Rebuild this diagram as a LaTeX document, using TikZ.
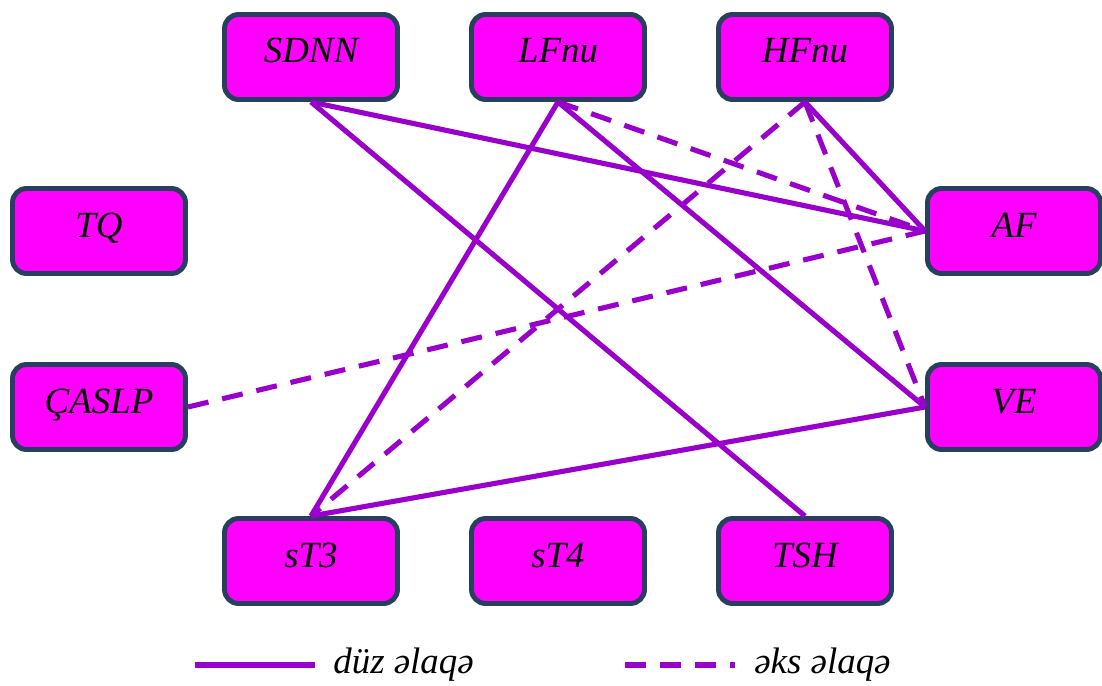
\documentclass[tikz,border=0pt]{standalone}
\usepackage{fontspec}
\setmainfont{Liberation Serif}
\usetikzlibrary{positioning}
\definecolor{boxfill}{RGB}{255,0,255}
\definecolor{boxedge}{RGB}{38,64,94}
\definecolor{linkcol}{RGB}{153,0,204}

\begin{document}
\begin{tikzpicture}[x=0.02cm, y=-0.02cm, font=\rmfamily\itshape\fontsize{21}{24}\selectfont,
      v/.style={rectangle, rounded corners=8pt, draw=boxedge, line width=2.8pt, fill=boxfill,
                minimum width=3.46cm, inner xsep=0pt, inner ysep=0pt,
                text height=0.97cm, text depth=0.73cm},
      direct/.style={linkcol, line width=2.9pt},
      inverse/.style={linkcol, line width=2.9pt, dash pattern=on 12pt off 8pt}]
    \useasboundingbox (0,0) rectangle (1102,686);
    % variables
    \node[v] (sdnn)  at (311,57)   {SDNN};
    \node[v] (lfnu)  at (558,57)   {LFnu};
    \node[v] (hfnu)  at (805,57)   {HFnu};
    \node[v] (tq)    at (99,231)   {TQ};
    \node[v] (caslp) at (99,407)   {ÇASLP};
    \node[v] (af)    at (1014,231) {AF};
    \node[v] (ve)    at (1014,407) {VE};
    \node[v] (st3)   at (311,561)  {sT3};
    \node[v] (st4)   at (558,561)  {sT4};
    \node[v] (tsh)   at (805,561)  {TSH};
    % direct links
    \draw[direct] (sdnn.south) -- (af.west);
    \draw[direct] (sdnn.south) -- (tsh.north);
    \draw[direct] (lfnu.south) -- (st3.north);
    \draw[direct] (lfnu.south) -- (ve.west);
    \draw[direct] (hfnu.south) -- (af.west);
    \draw[direct] (ve.west) -- (st3.north);
    % inverse links
    \draw[inverse] (lfnu.south) -- (af.west);
    \draw[inverse] (hfnu.south) -- (st3.north);
    \draw[inverse] (hfnu.south) -- (ve.west);
    \draw[inverse] (caslp.east) -- (af.west);
    % legend
    \coordinate (d0) at (195,665);
    \coordinate (d1) at (315,665);
    \coordinate (i0) at (625,665);
    \coordinate (i1) at (735,665);
    \draw[direct] (d0) -- (d1);
    \draw[inverse] (i0) -- (i1);
    \node[anchor=west, inner sep=0pt] (dtext) at (333,665) {düz əlaqə};
    \node[anchor=west, inner sep=0pt] (itext) at (754,665) {əks əlaqə};
  \end{tikzpicture}
\end{document}
